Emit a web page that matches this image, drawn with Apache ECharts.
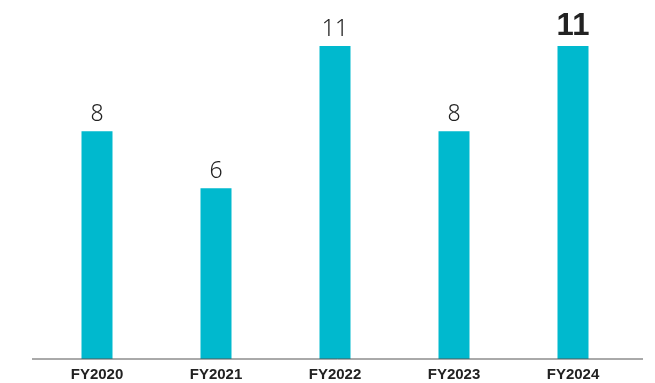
<!DOCTYPE html>
<html><head><meta charset="utf-8">
<script src="https://cdn.jsdelivr.net/npm/echarts@6/dist/echarts.min.js"></script>
<style>html,body{margin:0;padding:0;background:#fff}#c{width:655px;height:383px}</style>
</head><body><div id="c"></div>
<script>
var categories = ['FY2020', 'FY2021', 'FY2022', 'FY2023', 'FY2024'];
var values = [8, 6, 11, 8, 11];
var highlightIndex = 4;

var chart = echarts.init(document.getElementById('c'));
var data = values.map(function (v, i) {
  var item = { value: v };
  if (i === highlightIndex) {
    item.label = { fontWeight: 'bold', fontSize: 31, fontFamily: 'Liberation Sans', distance: 4 };
  }
  return item;
});
chart.setOption({
  animation: false,
  grid: { left: 37.5, right: 22.5, top: 46, bottom: 24 },
  xAxis: {
    type: 'category',
    data: categories,
    axisLine: { show: false },
    axisTick: { show: false },
    axisLabel: { color: '#222', fontSize: 15, fontWeight: 'bold', fontFamily: 'Liberation Sans', margin: 8 }
  },
  yAxis: { type: 'value', min: 0, max: 11, show: false, splitLine: { show: false } },
  graphic: [{
    type: 'line', shape: { x1: 32, y1: 359, x2: 643, y2: 359 },
    style: { stroke: '#555', lineWidth: 1 }, z: 10
  }],
  series: [{
    type: 'bar',
    data: data,
    barWidth: 31,
    itemStyle: { color: '#00B9CE' },
    label: { show: true, position: 'top', color: '#222', fontSize: 23, fontFamily: 'Noto Sans', fontWeight: 300, distance: 5 }
  }]
});
</script></body></html>
